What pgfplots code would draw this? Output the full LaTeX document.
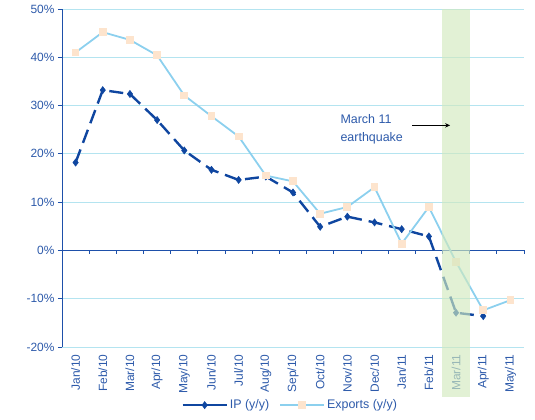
\documentclass[border=0pt]{standalone}
\usepackage{fontspec}
\setmainfont{Liberation Sans}
\usepackage{pgfplots}
\pgfplotsset{compat=1.18}
\usetikzlibrary{arrows.meta}
\definecolor{textblue}{RGB}{45,90,170}
\definecolor{axisblue}{RGB}{30,80,170}
\definecolor{ipblue}{RGB}{15,70,160}
\definecolor{expblue}{RGB}{140,208,238}
\definecolor{peach}{RGB}{253,228,205}
\definecolor{gridblue}{RGB}{180,228,240}
\definecolor{bandgreen}{RGB}{210,234,190}
\begin{document}
\begin{tikzpicture}
\path[use as bounding box] (-62bp,-73bp) rectangle (473bp,347bp);
\begin{axis}[
 scale only axis, width=462bp, height=338bp,
 xmin=-0.5, xmax=16.5, ymin=-20, ymax=50,
 axis y line*=left, axis x line*=bottom,
 x axis line style={draw=none},
 y axis line style={draw=axisblue, line width=1pt, -},
 ytick={-20,-10,...,50},
 yticklabel={\pgfmathprintnumber{\tick}\%},
 /pgf/number format/assume math mode=true,
 ymajorgrids, grid style={gridblue, line width=0.8pt},
 ytick style={draw=axisblue, line width=0.8pt},
 tick align=outside, major tick length=4bp,
 xtick={0,...,16},
 xticklabels={Jan/10,Feb/10,Mar/10,Apr/10,May/10,Jun/10,Jul/10,Aug/10,Sep/10,Oct/10,Nov/10,Dec/10,Jan/11,Feb/11,Mar/11,Apr/11,May/11},
 xtick style={draw=none},
 xticklabel style={rotate=90, anchor=east, xshift=0bp},
 tick label style={font=\fontsize{12}{14}\selectfont, text=textblue},
 clip=false,
 legend style={at={(0.494,-0.172)}, anchor=center, draw=none, fill=none,
   font=\fontsize{12.5}{14}\selectfont, text=textblue, legend columns=2,
   /tikz/every even column/.append style={column sep=8bp}},
 legend image code/.code={\draw[mark repeat=2,mark phase=2,#1] plot coordinates {(0bp,0bp) (22bp,0bp) (44bp,0bp)};},
 legend image post style={solid},
]
\draw[axisblue, line width=1pt] (axis cs:-0.5,0) -- (axis cs:16.5,0);
\pgfplotsinvokeforeach{0.5,1.5,...,16.5}{\draw[axisblue, line width=0.8pt] (axis cs:#1,0) -- ([yshift=-4bp]axis cs:#1,0);}
\addplot[ipblue, line width=2.4pt, dash pattern=on 14bp off 7bp, mark=diamond*, mark size=3.6bp, mark options={solid, fill=ipblue, draw=ipblue, line width=0.5pt}]
 coordinates {(0,18.2) (1,33.2) (2,32.4) (3,27.0) (4,20.7) (5,16.7) (6,14.6) (7,15.3) (8,12.0) (9,4.9) (10,7.0) (11,5.8) (12,4.4) (13,2.9) (14,-12.9) (15,-13.6)};
\addlegendentry{IP (y/y)}
\addplot[expblue, line width=1.8pt, mark=square*, mark size=3bp, mark options={fill=peach, draw=peach}]
 coordinates {(0,41.0) (1,45.2) (2,43.6) (3,40.4) (4,32.1) (5,27.8) (6,23.6) (7,15.5) (8,14.3) (9,7.6) (10,9.0) (11,13.1) (12,1.4) (13,9.0) (14,-2.4) (15,-12.4) (16,-10.3)};
\addlegendentry{Exports (y/y)}
\node[anchor=west, align=left, text=textblue, font=\fontsize{12.5}{18}\selectfont] at (axis cs:9.62,25.0) {March 11\\earthquake};
\coordinate (arrA) at (axis cs:12.38,25.9);
\coordinate (arrB) at (axis cs:13.78,25.9);
\coordinate (bandTL) at (axis cs:13.5,50);
\coordinate (bandBR) at (axis cs:14.5,-30.4);
\end{axis}
\fill[bandgreen, opacity=0.65] (bandTL) rectangle (bandBR);
\draw[-{Stealth[length=5bp,width=4.5bp]}, black, line width=0.9pt] (arrA) -- (arrB);
\end{tikzpicture}
\end{document}
